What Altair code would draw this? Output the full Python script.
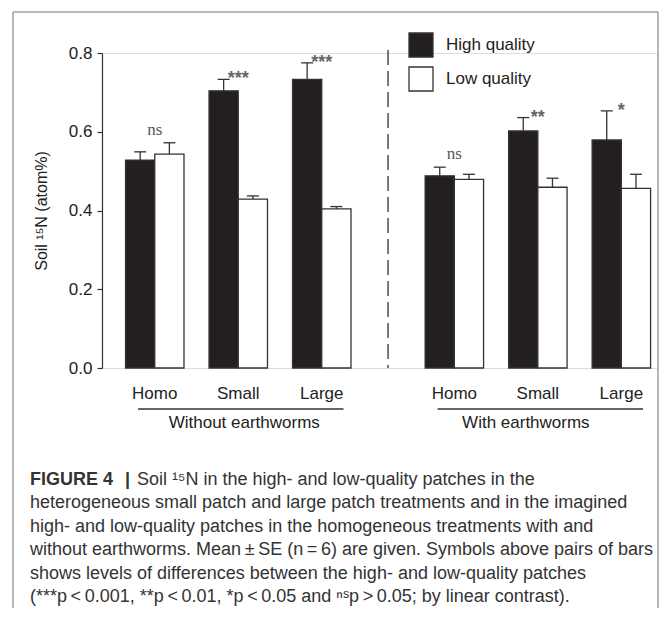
import altair as alt
import pandas as pd

groups = ["Homo", "Small", "Large"]
qualities = ["High quality", "Low quality"]
panels = ["Without earthworms", "With earthworms"]

# Without earthworms
wo_high_mean = [0.528, 0.704, 0.733]
wo_high_se = [0.021, 0.029, 0.042]
wo_low_mean = [0.543, 0.429, 0.404]
wo_low_se = [0.029, 0.008, 0.006]
wo_sig = ["ns", "***", "***"]

# With earthworms
w_high_mean = [0.488, 0.602, 0.579]
w_high_se = [0.022, 0.034, 0.074]
w_low_mean = [0.479, 0.459, 0.456]
w_low_se = [0.013, 0.023, 0.036]
w_sig = ["ns", "**", "*"]

y_ticks = [0.0, 0.2, 0.4, 0.6, 0.8]
y_title = "Soil \u00b9\u2075N (atom%)"

caption_bold = "FIGURE 4"
caption_bar = "|"
caption_first = "Soil \u00b9\u2075N in the high- and low-quality patches in the"
caption_rest = [
    "heterogeneous small patch and large patch treatments and in the imagined",
    "high- and low-quality patches in the homogeneous treatments with and",
    "without earthworms. Mean\u2009\u00b1\u2009SE (n\u2009=\u20096) are given. Symbols above pairs of bars",
    "shows levels of differences between the high- and low-quality patches",
    "(***p\u2009<\u20090.001, **p\u2009<\u20090.01, *p\u2009<\u20090.05 and \u207f\u02e2p\u2009>\u20090.05; by linear contrast).",
]

# layout (in group-step units along x)
panel_offsets = [0.632, 4.22]
bar_half = 0.35
x_domain = [0, 6.647]

FONT = "Liberation Sans"
DARK = "#333333"
TXT = "#222222"

W, H = 555, 315
LINE = 23.4

rows, sig_rows, lab_rows = [], [], []
series = [
    (wo_high_mean, wo_high_se, wo_low_mean, wo_low_se, wo_sig),
    (w_high_mean, w_high_se, w_low_mean, w_low_se, w_sig),
]
for p, (hm, hs, lm, ls, sg) in enumerate(series):
    for i, g in enumerate(groups):
        c = panel_offsets[p] + i
        rows.append({"panel": panels[p], "group": g, "quality": qualities[0],
                     "mean": hm[i], "se": hs[i], "x1": c - bar_half, "x2": c})
        rows.append({"panel": panels[p], "group": g, "quality": qualities[1],
                     "mean": lm[i], "se": ls[i], "x1": c, "x2": c + bar_half})
        sig_rows.append({"panel": panels[p], "group": g, "sig": sg[i], "xc": c,
                         "top": max(hm[i] + hs[i], lm[i] + ls[i])})
        lab_rows.append({"group": g, "xc": c})
df = pd.DataFrame(rows)
df["top"] = df["mean"] + df["se"]
df["xm"] = (df["x1"] + df["x2"]) / 2
sig_df = pd.DataFrame(sig_rows)
lab_df = pd.DataFrame(lab_rows)
panel_df = pd.DataFrame({
    "panel": panels,
    "xs": [o - 0.2 for o in panel_offsets],
    "xe": [o + 2.26 for o in panel_offsets],
    "xmid": [o + 1 for o in panel_offsets],
})
div_df = pd.DataFrame({"xd": [(panel_offsets[0] + 2 + panel_offsets[1]) / 2]})

xs = alt.Scale(domain=x_domain, nice=False, zero=False)
ys = alt.Scale(domain=[0, 0.8])

yaxis = alt.Axis(values=y_ticks, format=".1f", title=y_title, titleFontSize=16,
                 titleFont=FONT, titleFontWeight="normal", titleColor=TXT,
                 labelFontSize=17, labelFont=FONT, labelColor=TXT,
                 tickSize=5, labelPadding=5, domainColor=DARK, tickColor=DARK,
                 domainWidth=1.2, tickWidth=1.2, grid=False, titlePadding=19)

legend_cfg = alt.Legend(
    title=None, orient="none", legendX=306, legendY=-21, symbolType="square",
    symbolSize=576, symbolStrokeColor=DARK, symbolStrokeWidth=1.3,
    labelFontSize=17, labelFont=FONT, labelColor=TXT, labelOffset=12,
    rowPadding=4, padding=0,
)

base = alt.Chart(df)
bars = base.mark_bar(stroke=DARK, strokeWidth=1.3).encode(
    x=alt.X("x1:Q", scale=xs, axis=None), x2="x2:Q",
    y=alt.Y("mean:Q", scale=ys, axis=yaxis), y2=alt.datum(0),
    fill=alt.Fill("quality:N", sort=qualities,
                  scale=alt.Scale(domain=qualities, range=["#231f20", "#ffffff"]),
                  legend=legend_cfg),
)
err = base.mark_rule(color=DARK, strokeWidth=1.3).encode(
    x=alt.X("xm:Q", scale=xs), y=alt.Y("top:Q", scale=ys), y2="mean:Q")
cap = base.mark_tick(color=DARK, thickness=1.3, size=12, opacity=1,
                     orient="horizontal").encode(
    x=alt.X("xm:Q", scale=xs), y=alt.Y("top:Q", scale=ys))

sig_base = alt.Chart(sig_df)
ns = sig_base.transform_filter(alt.datum.sig == "ns").mark_text(
    font="Liberation Serif", fontSize=17, color="#555555", baseline="alphabetic", dy=-8
).encode(x=alt.X("xc:Q", scale=xs), y=alt.Y("top:Q", scale=ys), text="sig:N")
stars = sig_base.transform_filter(alt.datum.sig != "ns").mark_text(
    font=FONT, fontSize=18, fontWeight="bold", color="#666666", baseline="alphabetic", dy=5
).encode(x=alt.X("xc:Q", scale=xs), y=alt.Y("top:Q", scale=ys), text="sig:N")

cat_labels = alt.Chart(lab_df).mark_text(
    font=FONT, fontSize=17, color=TXT, baseline="alphabetic"
).encode(x=alt.X("xc:Q", scale=xs), y=alt.value(346), text="group:N")

underline = alt.Chart(panel_df).mark_rule(color=DARK, strokeWidth=1.3).encode(
    x=alt.X("xs:Q", scale=xs), x2="xe:Q", y=alt.value(356))
ptitle_l = alt.Chart(panel_df.iloc[[0]]).mark_text(
    font=FONT, fontSize=17, color=TXT, baseline="alphabetic", dx=6
).encode(x=alt.X("xmid:Q", scale=xs), y=alt.value(375), text="panel:N")
ptitle_r = alt.Chart(panel_df.iloc[[1]]).mark_text(
    font=FONT, fontSize=17, color=TXT, baseline="alphabetic", dx=-12
).encode(x=alt.X("xmid:Q", scale=xs), y=alt.value(375), text="panel:N")

divider = alt.Chart(div_df).mark_rule(color=DARK, strokeWidth=1.3, strokeDash=[15, 6]).encode(
    x=alt.X("xd:Q", scale=xs), y=alt.value(-3), y2=alt.value(H))

one = pd.DataFrame({"k": [0]})
FRAME = "#a0a0a0"
frame_top = alt.Chart(one).mark_rule(color=FRAME, strokeWidth=1.5).encode(
    x=alt.value(-89), x2=alt.value(556), y=alt.value(-41))
frame_left = alt.Chart(one).mark_rule(color=FRAME, strokeWidth=1.5).encode(
    x=alt.value(-89), y=alt.value(-41), y2=alt.value(560))
frame_right = alt.Chart(one).mark_rule(color=FRAME, strokeWidth=1.5).encode(
    x=alt.value(556), y=alt.value(-41), y2=alt.value(560))

cap_bold = alt.Chart(one).mark_text(
    font=FONT, fontSize=18, fontWeight="bold", color=DARK, align="left", baseline="alphabetic"
).encode(x=alt.value(-72), y=alt.value(432), text=alt.value(caption_bold))
cap_bar = alt.Chart(one).mark_text(
    font=FONT, fontSize=18, fontWeight="bold", color=DARK, align="left", baseline="alphabetic"
).encode(x=alt.value(23), y=alt.value(432), text=alt.value(caption_bar))
cap_first = alt.Chart(one).mark_text(
    font=FONT, fontSize=18, color=DARK, align="left", baseline="alphabetic"
).encode(x=alt.value(35), y=alt.value(432), text=alt.value(caption_first))
cap_rest = alt.Chart(one).mark_text(
    font=FONT, fontSize=18, color=DARK, align="left", baseline="alphabetic", lineHeight=LINE
).encode(x=alt.value(-72), y=alt.value(432 + LINE), text=alt.value(caption_rest))

chart = alt.layer(
    bars, err, cap, ns, stars, cat_labels, underline, ptitle_l, ptitle_r, divider,
    frame_top, frame_left, frame_right, cap_bold, cap_bar, cap_first, cap_rest,
).properties(
    width=W, height=H,
    autosize=alt.AutoSizeParams(type="none"),
    padding={"left": 94, "top": 45, "right": 3, "bottom": 240},
).configure_view(stroke=None).configure(background="white")

chart.save("out.html", embed_options={"renderer": "svg", "actions": False})
